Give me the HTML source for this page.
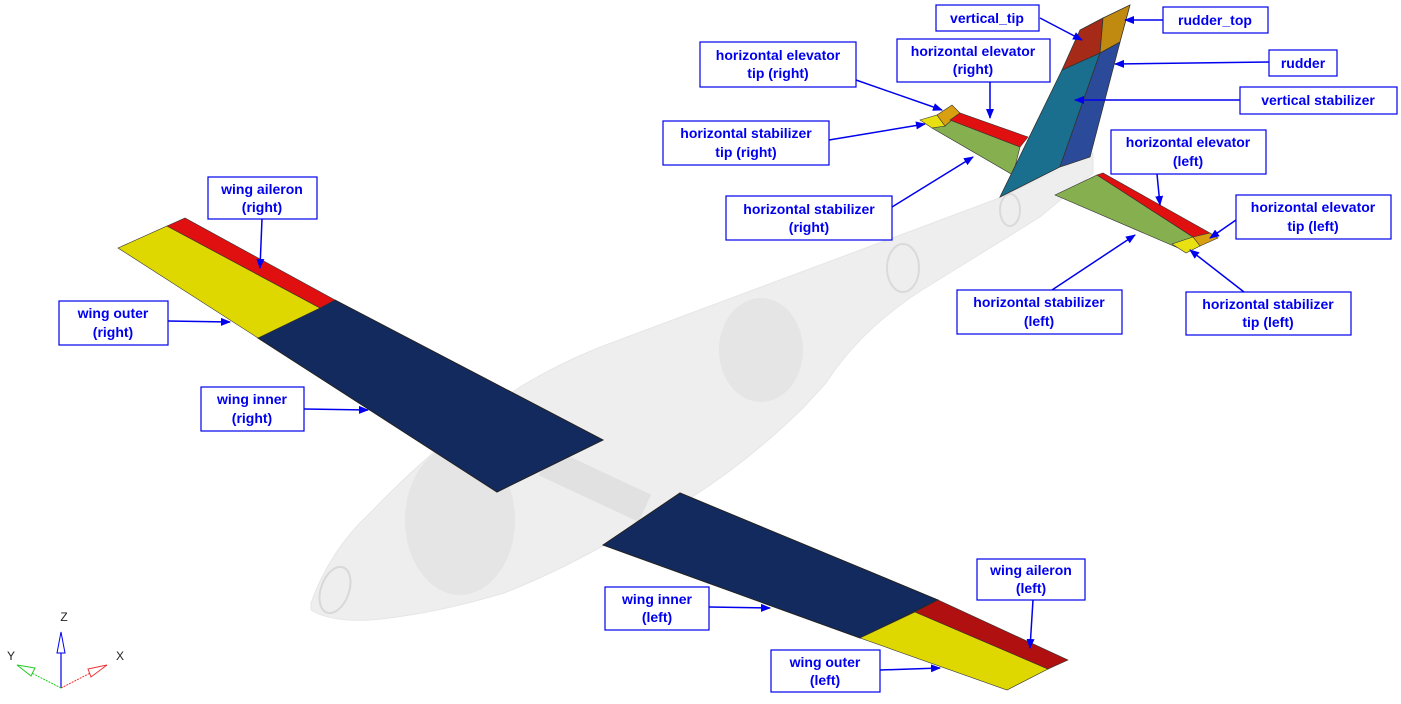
<!DOCTYPE html>
<html><head><meta charset="utf-8"><style>
html,body{margin:0;padding:0;background:#fff;width:1401px;height:704px;overflow:hidden}
svg{display:block}
text{font-family:"Liberation Sans",Arial,sans-serif;font-weight:bold;font-size:14px;fill:#0000ee;text-anchor:middle}
.b{fill:#fff;stroke:#0000ee;stroke-width:1.2}
.a{stroke:#0000ee;stroke-width:1.5;fill:none;marker-end:url(#ah)}
</style></head><body>
<svg width="1401" height="704" viewBox="0 0 1401 704">
<defs>
<marker id="ah" markerWidth="10" markerHeight="8" refX="9" refY="4" orient="auto" markerUnits="userSpaceOnUse"><path d="M0,0 L10,4 L0,8 Z" fill="#0000ee"/></marker>
</defs>
<!-- fuselage -->
<path d="M311,603 Q330,550 370,513 Q440,440 520,387 Q565,360 611,343 L745,293 L879,243 L1002,197 L1093,153 L1093,173 L1040,217 L922,290 Q860,330 826,383 L804,407 Q750,460 692,497 Q650,525 601,547 Q550,575 504,593 Q430,615 370,620 Q330,622 311,610 Z" fill="#ececec" opacity="0.85" stroke="#e2e2e2"/>
<ellipse cx="335" cy="590" rx="14" ry="24" fill="none" stroke="#d8d8d8" stroke-width="2" transform="rotate(20 335 590)"/>
<ellipse cx="460" cy="520" rx="55" ry="75" fill="#e0e0e0" opacity="0.6"/>
<ellipse cx="761" cy="350" rx="42" ry="52" fill="#e0e0e0" opacity="0.6"/>
<ellipse cx="903" cy="268" rx="16" ry="24" fill="none" stroke="#dadada" stroke-width="2"/>
<ellipse cx="1010" cy="210" rx="10" ry="16" fill="none" stroke="#dadada" stroke-width="2"/>
<rect x="540" y="470" width="110" height="30" fill="#d8d8d8" opacity="0.6" transform="rotate(25 595 485)"/>
<!-- right wing -->
<polygon points="258,338 335,300 603,440 497,492" fill="#132a5e" stroke="#222"/>
<polygon points="118,248 167,226 320,308 258,338" fill="#dfd800" stroke="#333" stroke-width="0.6"/>
<polygon points="167,226 185,218 335,300 320,308" fill="#e01010" stroke="#333" stroke-width="0.6"/>
<!-- left wing -->
<polygon points="603,545 680,493 938,600 860,638" fill="#132a5e" stroke="#222"/>
<polygon points="860,638 915,612 1048,669 1007,690" fill="#dfd800" stroke="#333" stroke-width="0.6"/>
<polygon points="915,612 938,600 1068,660 1048,669" fill="#b01010" stroke="#333" stroke-width="0.6"/>
<!-- horizontal stab right -->
<polygon points="932,128 950,120 1020,147 1013,175" fill="#86b050" stroke="#333" stroke-width="0.6"/>
<polygon points="920,120 937,115 945,126 932,128" fill="#e8e010" stroke="#333" stroke-width="0.6"/>
<polygon points="937,115 952,105 960,113 945,126" fill="#d8a010" stroke="#333" stroke-width="0.6"/>
<polygon points="950,120 960,113 1028,137 1020,147" fill="#e01010" stroke="#333" stroke-width="0.6"/>
<!-- vertical -->
<polygon points="1062,70 1100,53 1060,167 1000,197" fill="#1a6e8e" stroke="#333" stroke-width="0.8"/>
<polygon points="1100,53 1120,42 1090,157 1060,167" fill="#2c4a9a" stroke="#333" stroke-width="0.8"/>
<polygon points="1062,70 1080,30 1103,18 1100,53" fill="#a52a18" stroke="#333" stroke-width="0.8"/>
<polygon points="1103,18 1130,5 1120,42 1100,53" fill="#c08a10" stroke="#333" stroke-width="0.8"/>
<!-- horizontal stab left -->
<polygon points="1055,195 1097,175 1193,237 1183,250" fill="#86b050" stroke="#333" stroke-width="0.6"/>
<polygon points="1097,175 1103,173 1210,233 1193,237" fill="#e01010" stroke="#333" stroke-width="0.6"/>
<polygon points="1193,237 1210,233 1218,238 1200,246" fill="#d8a010" stroke="#333" stroke-width="0.6"/>
<polygon points="1172,244 1193,237 1200,246 1186,253" fill="#e8e010" stroke="#333" stroke-width="0.6"/>
<!-- axis -->
<line x1="61" y1="688" x2="61" y2="640" stroke="#0000ee" stroke-width="1.2"/>
<polygon points="61,632 57,653 65,653" fill="#fff" stroke="#0000ee"/>
<line x1="61" y1="688" x2="20" y2="667" stroke="#22cc22" stroke-dasharray="2,1"/>
<polygon points="17,665 35,668 31,676" fill="#fff" stroke="#22cc22"/>
<line x1="61" y1="688" x2="104" y2="666" stroke="#ee3333" stroke-dasharray="2,1"/>
<polygon points="107,665 88,669 91,677" fill="#fff" stroke="#ee3333"/>
<text x="64" y="621" style="font-weight:normal;font-size:12px;fill:#222">Z</text>
<text x="11" y="660" style="font-weight:normal;font-size:12px;fill:#222">Y</text>
<text x="120" y="660" style="font-weight:normal;font-size:12px;fill:#222">X</text>
<!-- arrows -->
<line class="a" x1="1040" y1="18" x2="1082" y2="40"/>
<line class="a" x1="1163" y1="20" x2="1125" y2="20"/>
<line class="a" x1="1269" y1="62" x2="1115" y2="64"/>
<line class="a" x1="1240" y1="100" x2="1075" y2="100"/>
<line class="a" x1="856" y1="80" x2="942" y2="110"/>
<line class="a" x1="990" y1="82" x2="990" y2="118"/>
<line class="a" x1="829" y1="140" x2="925" y2="124"/>
<line class="a" x1="892" y1="207" x2="973" y2="157"/>
<line class="a" x1="1157" y1="174" x2="1160" y2="205"/>
<line class="a" x1="1236" y1="220" x2="1210" y2="238"/>
<line class="a" x1="1052" y1="290" x2="1135" y2="235"/>
<line class="a" x1="1244" y1="292" x2="1190" y2="250"/>
<line class="a" x1="262" y1="219" x2="260" y2="268"/>
<line class="a" x1="168" y1="321" x2="230" y2="322"/>
<line class="a" x1="304" y1="409" x2="368" y2="410"/>
<line class="a" x1="709" y1="607" x2="770" y2="608"/>
<line class="a" x1="1033" y1="600" x2="1030" y2="648"/>
<line class="a" x1="880" y1="670" x2="940" y2="668"/>
<!-- labels -->
<rect class="b" x="936" y="5" width="103" height="26"/><text x="987" y="23">vertical_tip</text>
<rect class="b" x="1163" y="7" width="105" height="26"/><text x="1215" y="25">rudder_top</text>
<rect class="b" x="1269" y="50" width="68" height="26"/><text x="1303" y="68">rudder</text>
<rect class="b" x="1240" y="87" width="157" height="27"/><text x="1318" y="105">vertical stabilizer</text>
<rect class="b" x="700" y="42" width="156" height="45"/><text x="778" y="60">horizontal elevator</text><text x="778" y="78">tip (right)</text>
<rect class="b" x="897" y="39" width="153" height="43"/><text x="973" y="56">horizontal elevator</text><text x="973" y="74">(right)</text>
<rect class="b" x="663" y="121" width="166" height="44"/><text x="746" y="138">horizontal stabilizer</text><text x="746" y="157">tip (right)</text>
<rect class="b" x="726" y="196" width="166" height="44"/><text x="809" y="214">horizontal stabilizer</text><text x="809" y="232">(right)</text>
<rect class="b" x="1111" y="130" width="155" height="44"/><text x="1188" y="147">horizontal elevator</text><text x="1188" y="166">(left)</text>
<rect class="b" x="1236" y="195" width="155" height="44"/><text x="1313" y="212">horizontal elevator</text><text x="1313" y="231">tip (left)</text>
<rect class="b" x="957" y="290" width="165" height="44"/><text x="1039" y="307">horizontal stabilizer</text><text x="1039" y="326">(left)</text>
<rect class="b" x="1186" y="292" width="165" height="43"/><text x="1268" y="309">horizontal stabilizer</text><text x="1268" y="327">tip (left)</text>
<rect class="b" x="208" y="177" width="109" height="42"/><text x="262" y="194">wing aileron</text><text x="262" y="212">(right)</text>
<rect class="b" x="59" y="301" width="109" height="44"/><text x="113" y="318">wing outer</text><text x="113" y="337">(right)</text>
<rect class="b" x="201" y="387" width="103" height="44"/><text x="252" y="404">wing inner</text><text x="252" y="423">(right)</text>
<rect class="b" x="605" y="587" width="104" height="43"/><text x="657" y="604">wing inner</text><text x="657" y="622">(left)</text>
<rect class="b" x="977" y="559" width="108" height="41"/><text x="1031" y="575">wing aileron</text><text x="1031" y="593">(left)</text>
<rect class="b" x="771" y="650" width="109" height="42"/><text x="825" y="667">wing outer</text><text x="825" y="685">(left)</text>
</svg>
</body></html>
